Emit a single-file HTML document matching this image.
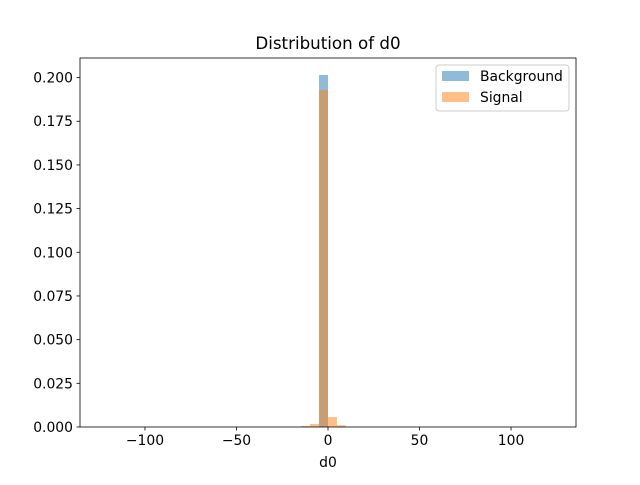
<!DOCTYPE html>
<html><head><meta charset="utf-8"><style>
body{margin:0;background:#fff;}
svg text{font-family:"DejaVu Sans","Liberation Sans",sans-serif;fill:#000;}
</style></head><body>
<svg id="chart" width="640" height="480" xmlns="http://www.w3.org/2000/svg">
<rect width="640" height="480" fill="#fff"/>
<text x="328" y="49" font-size="16.7" text-anchor="middle">Distribution of d0</text>
<g id="bars"></g>
<g id="axes"></g>
<text x="328" y="467" font-size="13.9" text-anchor="middle">d0</text>
<g>
<rect x="436" y="65" width="133" height="46" fill="#fff" stroke="#ccc" rx="3"/>
<rect x="442" y="71" width="27" height="10" fill="#1f77b4" fill-opacity="0.5"/>
<text x="480" y="81" font-size="13.9">Background</text>
<rect x="442" y="92" width="27" height="10" fill="#ff7f0e" fill-opacity="0.5"/>
<text x="480" y="102" font-size="13.9">Signal</text>
</g>
</svg>
<script>
const binLefts = [-14.7, -9.8, -4.9, 0, 4.9];
const binWidth = 4.9;
const backgroundValues = [0, 0, 0.2015, 0, 0];
const signalValues = [0.0006, 0.0017, 0.193, 0.0057, 0.001];
const xTicks = [-100, -50, 0, 50, 100];
const yTicks = [0, 0.025, 0.05, 0.075, 0.1, 0.125, 0.15, 0.175, 0.2];
const yTickLabels = ["0.000","0.025","0.050","0.075","0.100","0.125","0.150","0.175","0.200"];

const L=80,R=576,T=58,B=427, xmin=-135.5,xmax=135.5,ymin=0,ymax=0.2112;
const sx=v=>L+(v-xmin)/(xmax-xmin)*(R-L);
const sy=v=>B-(v-ymin)/(ymax-ymin)*(B-T);
const NS="http://www.w3.org/2000/svg";
function mk(tag,attrs,parent){const e=document.createElementNS(NS,tag);for(const k in attrs)e.setAttribute(k,attrs[k]);parent.appendChild(e);return e;}
const bars=document.getElementById('bars'), axes=document.getElementById('axes');
function series(vals,color,name){
  vals.forEach((v,i)=>{
    if(v<=0)return;
    const r=mk('rect',{x:sx(binLefts[i]),y:sy(v),width:sx(binLefts[i]+binWidth)-sx(binLefts[i]),height:sy(0)-sy(v),fill:color,'fill-opacity':0.5},bars);
    
    
  });
}
series(backgroundValues,'#1f77b4','background');
series(signalValues,'#ff7f0e','signal');
const fr=mk('rect',{x:L,y:T,width:R-L,height:B-T,fill:'none',stroke:'#000','stroke-width':0.8},axes);


xTicks.forEach(t=>{
  const x=sx(t);
  mk('line',{x1:x,x2:x,y1:B,y2:B+3.5,stroke:'#000','stroke-width':0.8},axes);
  const tx=mk('text',{x:x,y:B+18,'font-size':13.9,'text-anchor':'middle'},axes);
  tx.textContent=(t<0?'\u2212'+(-t):t);
  
  
});
yTicks.forEach((t,i)=>{
  const y=sy(t);
  mk('line',{x1:L-3.5,x2:L,y1:y,y2:y,stroke:'#000','stroke-width':0.8},axes);
  const tx=mk('text',{x:L-7,y:y+5,'font-size':13.9,'text-anchor':'end'},axes);
  tx.textContent=yTickLabels[i];
  
  
});
</script>
</body></html>
